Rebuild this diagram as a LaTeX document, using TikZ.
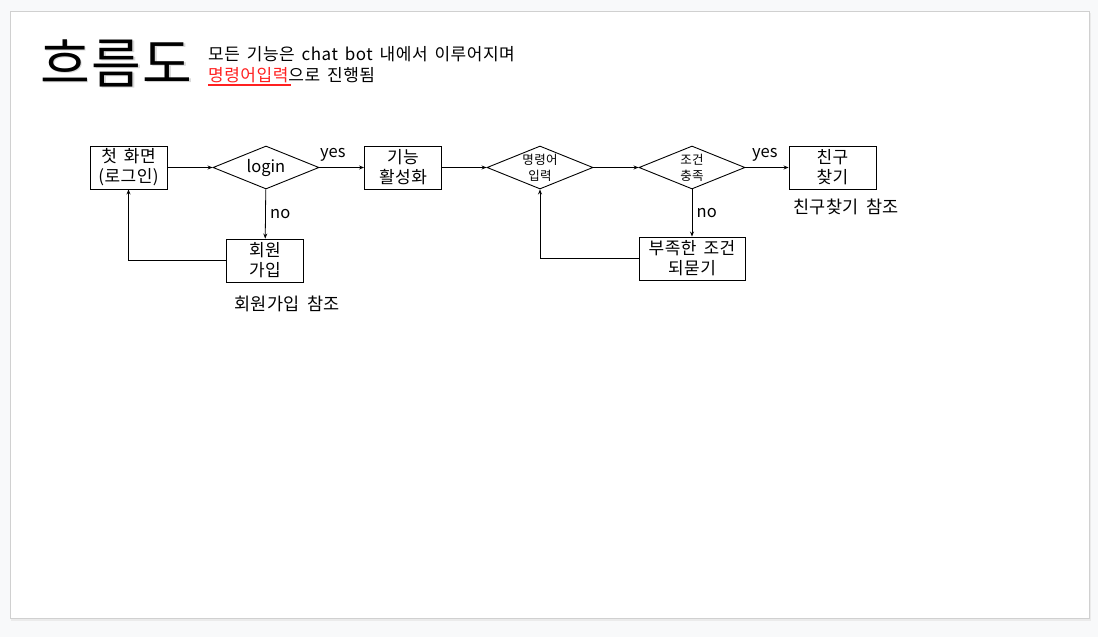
\documentclass[tikz,border=0pt]{standalone}
\usepackage{fontspec}
\setmainfont{Noto Sans CJK KR}
\usetikzlibrary{shapes.geometric,arrows.meta}
\definecolor{pagebg}{HTML}{F8F9FA}
\definecolor{slideborder}{HTML}{D0D0D0}
\definecolor{linkred}{HTML}{FF2020}
\newfontfamily\widefont[LetterSpace=3,WordSpace=1.6]{Noto Sans CJK KR}
\tikzset{
  box/.style={draw,line width=0.9pt,minimum width=#1,minimum height=43pt,inner sep=1pt,align=center,font=\widefont\fontsize{17}{20}\selectfont},
  box/.default=77pt,
  dia/.style={draw,line width=0.9pt,diamond,aspect=2.47,minimum width=106pt,minimum height=43pt,inner sep=0pt,align=center},
  flow/.style={line width=0.8pt,-{Stealth[length=5pt,width=4pt]}},
  lbl/.style={font=\widefont\fontsize{17.5}{20}\selectfont},
}
\begin{document}
\begin{tikzpicture}[x=1pt,y=-1pt]
\useasboundingbox (0,0) rectangle (1098,637);
\fill[pagebg] (0,0) rectangle (1098,637);
\fill[black!8] (11,13) rectangle (1091,621);
\filldraw[fill=white,draw=slideborder,line width=0.8pt] (10,11) rectangle (1089,618);
% title
\node[text=black!15,anchor=base west,inner sep=0pt,font=\widefont\fontsize{54}{58}\selectfont] at (41.5,84.5) {흐름도};
\node[anchor=base west,inner sep=0pt,font=\widefont\fontsize{54}{58}\selectfont] (title) at (40,83) {흐름도};
\node[anchor=base west,inner sep=0pt,font=\widefont\fontsize{17}{20}\selectfont] (sub1) at (208,60) {모든 기능은 chat bot 내에서 이루어지며};
\node[anchor=base west,inner sep=0pt,font=\widefont\fontsize{17}{20}\selectfont] (sub2) at (208,81) {\textcolor{linkred}{명령어입력}으로 진행됨};
\fill[linkred] (208,84.3) rectangle (291,85.7);
% nodes
\node[box] (start) at (128.5,167.5) {첫 화면\\(로그인)};
\node[dia,font=\fontsize{16.5}{19}\selectfont] (login) at (266,167.5) {\raisebox{-2pt}{login}};
\node[box] (act) at (403,167.5) {기능\\활성화};
\node[dia,font=\widefont\fontsize{12.5}{16}\selectfont] (cmd) at (540,167.5) {명령어\\입력};
\node[dia,font=\widefont\fontsize{12.5}{16}\selectfont] (cond) at (692,167.5) {조건\\충족};
\node[box=87pt] (friend) at (832.5,167.5) {친구\\찾기};
\node[box] (join) at (265,260.5) {회원\\가입};
\node[box=106pt] (ask) at (692,258.5) {부족한 조건\\되묻기};
\node[lbl] (joinref) at (287,304) {회원가입 참조};
\node[lbl] (friendref) at (846,207) {친구찾기 참조};
% connectors
\draw[flow] (start) -- (login);
\draw[flow] (login) -- node[lbl,above,pos=0.3,yshift=2pt,font=\fontsize{16.5}{19}\selectfont] (yes1) {yes} (act);
\draw[flow] (login) -- node[lbl,right,pos=0.5,xshift=1pt,font=\fontsize{16.5}{19}\selectfont] (no1) {no} (join);
\draw[flow] (join.west) -| (start.south);
\draw[flow] (act) -- (cmd);
\draw[flow] (cmd) -- (cond);
\draw[flow] (cond) -- node[lbl,above,pos=0.45,yshift=2pt,font=\fontsize{16.5}{19}\selectfont] (yes2) {yes} (friend);
\draw[flow] (cond) -- node[lbl,right,pos=0.5,xshift=1pt,font=\fontsize{16.5}{19}\selectfont] (no2) {no} (ask);
\draw[flow] (ask.west) -| (cmd.south);
\end{tikzpicture}
\end{document}
